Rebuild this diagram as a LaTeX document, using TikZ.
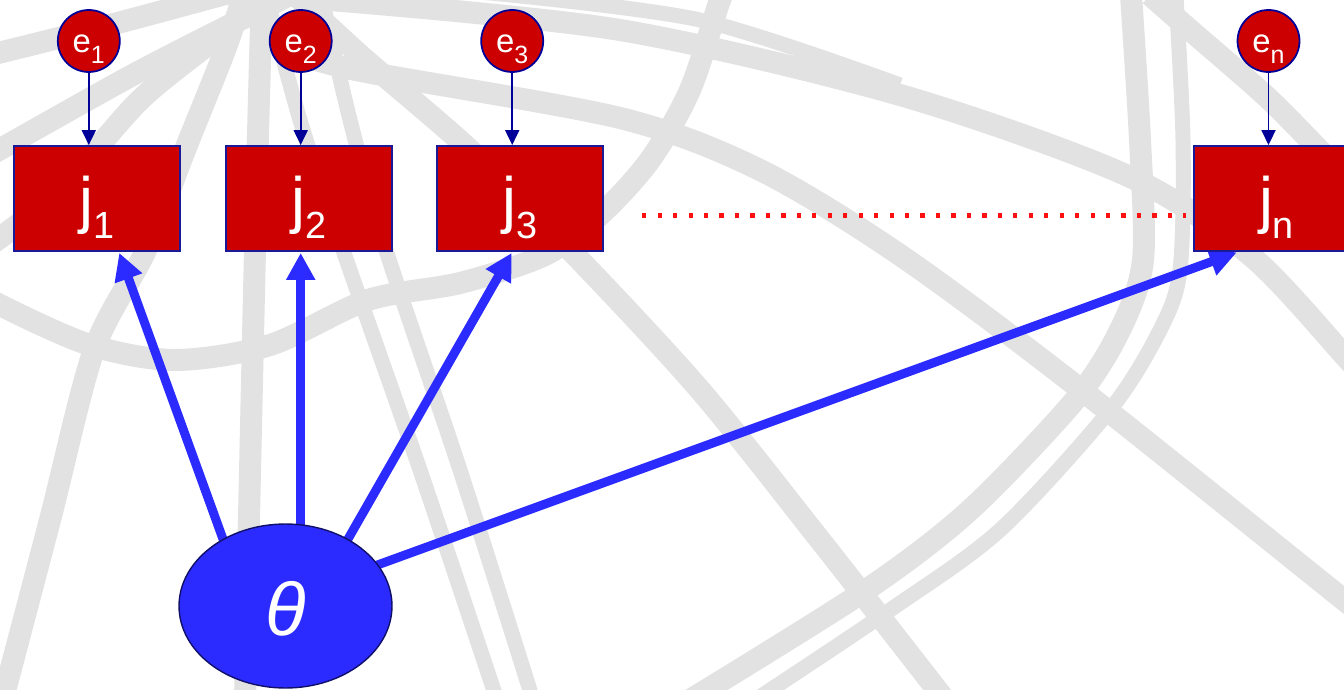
\documentclass[tikz,border=0pt]{standalone}
\usepackage{fontspec}
\setmainfont{Liberation Sans}
\usetikzlibrary{arrows.meta,calc,shapes.geometric}

\definecolor{boxred}{HTML}{CC0000}
\definecolor{edgeblue}{HTML}{1A1A99}
\definecolor{pathblue}{HTML}{2B2BFF}
\definecolor{errblue}{HTML}{000099}
\definecolor{rimnavy}{HTML}{10106A}
\definecolor{globegray}{HTML}{E2E2E2}
\definecolor{dotred}{HTML}{FF1010}

\pgfdeclarelayer{globe}
\pgfdeclarelayer{links}
\pgfsetlayers{globe,links,main}

% item label j_k and error label e_k
\newcommand{\itemlabel}[1]{\fontsize{35.7}{36}\selectfont j\fontsize{21.5}{22}\selectfont\raisebox{-9.6pt}{#1}}
\newcommand{\errlabel}[1]{\fontsize{18.7}{19}\selectfont e\fontsize{14.2}{15}\selectfont\raisebox{-5.7pt}{#1}}

\tikzset{
  itembox/.style={rectangle, draw=edgeblue, line width=1.1pt, fill=boxred, text=white,
    minimum width=3.32cm, minimum height=2.1cm, inner sep=0pt,
    text height=1.52cm, text depth=0.58cm, align=center},
  errnode/.style={circle, draw=errblue, line width=1pt, fill=boxred, text=white,
    minimum size=1.24cm, inner sep=0pt, text height=0.48cm, text depth=0pt},
  latent/.style={ellipse, draw=rimnavy, line width=0.8pt, fill=pathblue, text=white,
    minimum width=4.26cm, minimum height=3.28cm, inner sep=0pt,
    text height=1.16cm, text depth=0pt, font=\fontsize{42.5}{43}\selectfont\itshape},
  load/.style={draw=pathblue, line width=5.1pt, -{Triangle[length=0.54cm,width=0.55cm]}},
  errlink/.style={draw=errblue, line width=1.1pt, -{Triangle[length=0.3cm,width=0.28cm]}},
  ellipsisdots/.style={draw=dotred, line width=2.3pt, dash pattern=on 2.4pt off 6.4pt},
  band/.style={draw=globegray, line width=0.44cm},
  thinband/.style={draw=globegray, line width=0.3cm},
}

\begin{document}
\begin{tikzpicture}[x=0.02cm, y=-0.02cm]
\useasboundingbox (0,0) rectangle (1344,689);

% globe wireframe behind the diagram
\begin{pgfonlayer}{globe}
\begin{scope}
  \clip (0,0) rectangle (1344,689);
  \fill[white] (0,0) rectangle (1344,689);
  \draw[band] plot[smooth] coordinates {(-10,55) (110,25) (240,-10)};
  \draw[band] plot[smooth] coordinates {(-10,155) (129,77) (230,25) (300,-10)};
  \draw[band] plot[smooth] coordinates {(-10,245) (60,190) (140,100) (220,35) (270,-10)};
  \draw[band] plot[smooth] coordinates {(0,710) (50,520) (94,350) (146,250) (185,150) (225,50) (245,-10)};
  \draw[band] plot[smooth] coordinates {(262,-10) (255,250) (245,700)};
  \draw[thinband] plot[smooth] coordinates {(265,-10) (300,120) (343,250) (420,470) (497,700)};
  \draw[thinband] plot[smooth] coordinates {(320,-10) (350,120) (386,250) (460,470) (533,700)};
  \draw[band] plot[smooth] coordinates {(290,-10) (360,55) (470,150) (575,255) (700,390) (820,540) (945,700)};
  \draw[band] plot[smooth] coordinates {(290,50) (356,70) (620,118) (760,170) (900,255) (1075,385) (1344,600) (1400,645)};
  \draw[band] plot[smooth] coordinates {(-40,280) (0,305) (90,345) (175,360) (270,345) (368,300) (460,283) (545,255) (600,215) (650,160) (690,90) (720,0) (730,-20)};
  \draw[band] plot[smooth] coordinates {(330,0) (620,30) (900,95) (1128,176) (1250,255) (1344,355) (1400,420)};
  \draw[thinband] plot[smooth] coordinates {(480,-8) (700,20) (900,85)};
  \draw[band] plot[smooth] coordinates {(1130,-20) (1140,140) (1143,260) (1120,330) (1075,400) (970,510) (866,590) (690,700)};
  \draw[thinband] plot[smooth] coordinates {(1175,-20) (1183,140) (1180,270) (1160,330) (1110,410) (1000,530) (890,610) (740,710)};
  \draw[band] plot[smooth] coordinates {(1150,-5) (1190,30) (1270,100) (1344,175) (1380,205)};
\end{scope}
\end{pgfonlayer}

% observed items
\node[itembox] (j1) at (96.8,198.5) {\itemlabel{1}};
\node[itembox] (j2) at (308.7,198.5) {\itemlabel{2}};
\node[itembox] (j3) at (520.2,198.5) {\itemlabel{3}};
\node[itembox] (jn) at (1276.5,198.5) {\itemlabel{n}};

% error terms
\node[errnode] (e1) at (88.8,41) {\errlabel{1}};
\node[errnode] (e2) at (300.7,41) {\errlabel{2}};
\node[errnode] (e3) at (512.2,41) {\errlabel{3}};
\node[errnode] (en) at (1268.5,41) {\errlabel{n}};

% latent trait
\node[latent] (theta) at (285.5,606) {θ};

% arrow tips on the item boxes
\coordinate (t1) at ($(j1.south)+(22.5,1)$);
\coordinate (t2) at ($(j2.south)+(-8,1)$);
\coordinate (t3) at ($(j3.south)+(-8.5,1)$);
\coordinate (tn) at ($(jn.south)+(-39.8,0.5)$);
\coordinate (d0) at ($(j3.east)+(38,17)$);
\coordinate (d1) at ($(jn.west)+(-7,17)$);

\begin{pgfonlayer}{links}
  \draw[load, shorten <=-6pt] (theta.133.4) -- (t1);
  \draw[load, shorten <=-6pt] (t2 |- theta.north) -- (t2);
  \draw[load, shorten <=-6pt] (theta.47.8) -- (t3);
  \draw[load, shorten <=-6pt] (theta.24.2) -- (tn);
\end{pgfonlayer}

\draw[errlink] (e1) -- (e1 |- j1.north);
\draw[errlink] (e2) -- (e2 |- j2.north);
\draw[errlink] (e3) -- (e3 |- j3.north);
\draw[errlink] (en) -- (en |- jn.north);

\draw[ellipsisdots] (d0) -- (d1);
\end{tikzpicture}
\end{document}
